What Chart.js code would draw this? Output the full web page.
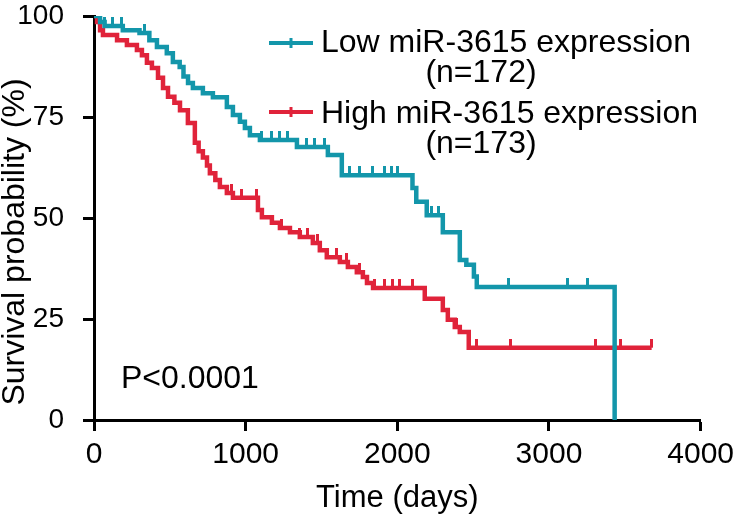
<!DOCTYPE html>
<html>
<head>
<meta charset="utf-8">
<script src="https://cdn.jsdelivr.net/npm/chart.js@4"></script>
<style>
  body { margin: 0; background: #fff; }
  #wrap { width: 740px; height: 517px; position: relative; }
</style>
</head>
<body>
<div id="wrap"><canvas id="km"></canvas></div>
<script>
// Kaplan-Meier steps: time (days) -> survival (%)
const lowTimes = [0, 40, 70, 190, 300, 365, 415, 480, 520, 565, 590, 620, 652, 718, 784, 876, 916, 962, 995, 1028, 1094, 1338, 1542, 1634, 2100, 2125, 2194, 2300, 2412, 2455, 2505, 2524, 3433];
const lowSurv  = [100, 98.5, 97.5, 96.5, 95.8, 94, 92.3, 90.8, 88.6, 87.4, 85, 83.4, 82.2, 80.9, 79.9, 77.5, 75.5, 73.8, 72.3, 70.5, 69.3, 67.6, 65.6, 60.6, 57.4, 54, 50.7, 46.5, 39.6, 38.4, 35.5, 32.9, 0];

const highTimes = [0, 20, 40, 59, 152, 217, 283, 316, 349, 382, 422, 455, 488, 530, 567, 619, 665, 690, 718, 745, 764, 800, 830, 876, 916, 1081, 1107, 1173, 1226, 1292, 1357, 1443, 1489, 1535, 1621, 1674, 1733, 1773, 1800, 1840, 2181, 2300, 2333, 2379, 2412, 2471, 3677];
const highSurv  = [100, 98.5, 96.5, 95.3, 94, 92.8, 91.6, 90.3, 88.4, 87.1, 84.7, 82.2, 80, 78.5, 76.7, 73.5, 68.6, 66.5, 65, 63, 61.1, 59.4, 57.7, 56.2, 55, 52, 50.2, 48.8, 47.5, 46.5, 45.3, 43.8, 42, 40.3, 39.1, 37.9, 36.6, 35.4, 33.9, 32.7, 30, 27.2, 24.8, 23, 21.8, 17.9, 17.9];

// censored times (tick marks)
const lowCensor  = [72, 125, 184, 330, 1107, 1173, 1226, 1278, 1404, 1456, 1522, 1687, 1753, 1839, 1918, 1964, 2003, 2227, 2270, 2735, 3124, 3255];
const highCensor = [909, 975, 1074, 1239, 1357, 1410, 1476, 1601, 1667, 1753, 1852, 1918, 1970, 2016, 2102, 2392, 2524, 2748, 3308, 3473, 3677];

const xTicks = [0, 1000, 2000, 3000, 4000];
const yTicks = [0, 25, 50, 75, 100];

const TEAL = '#1396aa';
const RED = '#e0233a';
const FONT = '"Liberation Sans", Arial, sans-serif';

function survAt(times, surv, t) {
    let v = surv[0];
    for (let i = 0; i < times.length; i++) {
        if (times[i] <= t) v = surv[i];
    }
    return v;
}

function tickMark(color) {
    const c = document.createElement('canvas');
    c.width = 3;
    c.height = 18;
    const g = c.getContext('2d');
    g.fillStyle = color;
    g.fillRect(0, 0, 3, 9);
    return c;
}

const steps = (times, surv) => times.map((t, i) => ({ x: t, y: surv[i] }));
const marks = (cens, times, surv) => cens.map(t => ({ x: t, y: survAt(times, surv, t) }));

const legendPlugin = {
    id: 'kmLegend',
    afterDraw(chart) {
        const ctx = chart.ctx;
        ctx.save();
        const rows = [
            { color: TEAL, y: 43, title: 'Low miR-3615 expression', tb: 52, n: '(n=172)', nb: 82 },
            { color: RED, y: 112, title: 'High miR-3615 expression', tb: 123, n: '(n=173)', nb: 153 }
        ];
        rows.forEach(r => {
            ctx.strokeStyle = r.color;
            ctx.lineWidth = 4;
            ctx.beginPath();
            ctx.moveTo(269, r.y);
            ctx.lineTo(313, r.y);
            ctx.stroke();
            ctx.lineWidth = 3;
            ctx.beginPath();
            ctx.moveTo(291, r.y - 5);
            ctx.lineTo(291, r.y + 5);
            ctx.stroke();
            ctx.fillStyle = '#000';
            ctx.font = '32px ' + FONT;
            ctx.textAlign = 'left';
            ctx.textBaseline = 'alphabetic';
            ctx.fillText(r.title, 321, r.tb);
            ctx.textAlign = 'center';
            ctx.fillText(r.n, 481, r.nb);
        });
        ctx.textAlign = 'left';
        ctx.fillText('P<0.0001', 121, 388);

        // y axis title, centred a bit lower than the plot centre like the original
        ctx.translate(15, 242);
        ctx.rotate(-Math.PI / 2);
        ctx.textAlign = 'center';
        ctx.textBaseline = 'middle';
        ctx.fillText('Survival probability (%)', 0, 0);
        ctx.restore();
    }
};

new Chart(document.getElementById('km'), {
    type: 'line',
    data: {
        datasets: [
            {
                label: 'Low miR-3615 expression',
                data: steps(lowTimes, lowSurv),
                borderColor: TEAL,
                borderWidth: 4.5,
                stepped: true,
                pointRadius: 0,
                fill: false
            },
            {
                label: 'High miR-3615 expression',
                data: steps(highTimes, highSurv),
                borderColor: RED,
                borderWidth: 4.5,
                stepped: true,
                pointRadius: 0,
                fill: false
            },
            {
                type: 'scatter',
                data: marks(lowCensor, lowTimes, lowSurv),
                pointStyle: tickMark(TEAL),
                pointRadius: 4,
                showLine: false
            },
            {
                type: 'scatter',
                data: marks(highCensor, highTimes, highSurv),
                pointStyle: tickMark(RED),
                pointRadius: 4,
                showLine: false
            }
        ]
    },
    options: {
        responsive: true,
        maintainAspectRatio: false,
        animation: false,
        layout: { padding: { top: 0, right: 39, left: 0, bottom: 0 } },
        plugins: {
            legend: { display: false },
            tooltip: { enabled: false }
        },
        scales: {
            x: {
                type: 'linear',
                min: 0,
                max: 4000,
                afterBuildTicks: s => { s.ticks = xTicks.map(v => ({ value: v })); },
                afterFit: s => { s.height = 97; },
                border: { display: true, color: '#000', width: 3 },
                grid: { drawOnChartArea: false, drawTicks: true, tickLength: 11, tickWidth: 3, tickColor: '#000' },
                ticks: { color: '#000', font: { family: FONT, size: 30 }, padding: 6, maxRotation: 0, callback: v => String(v) },
                title: { display: true, text: 'Time (days)', color: '#000', font: { family: FONT, size: 31 }, padding: 0 }
            },
            y: {
                min: 0,
                max: 100,
                afterBuildTicks: s => { s.ticks = yTicks.map(v => ({ value: v })); },
                afterFit: s => {
                    s.width = 94;
                    // keep the plot top where the original has it
                    s.paddingTop = 16;
                    s.paddingBottom = 0;
                },
                border: { display: true, color: '#000', width: 3 },
                grid: { drawOnChartArea: false, drawTicks: true, tickLength: 11, tickWidth: 3, tickColor: '#000' },
                ticks: { color: '#000', font: { family: FONT, size: 28 }, padding: 19, callback: v => String(v) }
            }
        }
    },
    plugins: [legendPlugin]
});
</script>
</body>
</html>
